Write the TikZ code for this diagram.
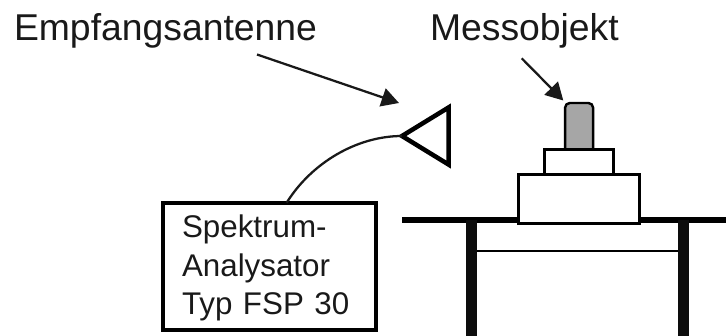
\documentclass[tikz,border=0pt]{standalone}
\usepackage{fontspec}
\setmainfont{Liberation Sans}
\newfontfamily\analyzerfont[WordSpace=0.7]{Liberation Sans}
\usetikzlibrary{positioning, arrows.meta, shapes.geometric}

\begin{document}
\begin{tikzpicture}[x=0.75pt, y=-0.75pt, inner sep=0pt, outer sep=0pt]
    % Define styles
    \tikzstyle{caption} = [anchor=base west, text=black!90, font=\fontsize{28}{34}\selectfont]
    \tikzstyle{analyzerbox} = [draw, rectangle, line width=3pt, minimum width=159.75pt, minimum height=95.25pt, inner xsep=14.5pt, text width=130.75pt, text height=20pt, align=left, text=black!90, font=\analyzerfont\fontsize{23.5}{28.9}\selectfont]
    \tikzstyle{antennashape} = [draw, isosceles triangle, shape border rotate=180, isosceles triangle apex angle=63, minimum height=35pt, line width=3.4pt]
    \tikzstyle{tabletop} = [fill=black, rectangle, minimum width=243pt, minimum height=4.5pt]
    \tikzstyle{tableleg} = [fill=black!95, rectangle, minimum width=8.25pt, minimum height=87pt]
    \tikzstyle{basebox} = [draw, rectangle, fill=white, line width=2.3pt, minimum width=90.75pt, minimum height=36.3pt]
    \tikzstyle{platebox} = [draw, rectangle, fill=white, line width=2.3pt, minimum width=52pt, minimum height=18.75pt]
    \tikzstyle{samplebox} = [draw, rectangle, rounded corners=3.5pt, fill=black!35, line width=1.8pt, minimum width=21pt, minimum height=43pt]
    \tikzstyle{pointer} = [-{Triangle[length=13pt, width=14pt]}, line width=1.7pt, black!90]
    \tikzstyle{cable} = [line width=1.7pt, black!90]
    \tikzstyle{strut} = [line width=1.8pt]

    \useasboundingbox (0,0) rectangle (726,336);

    % LABELS
    \node (rx_label) [caption] at (14,40.7) {Empfangsantenne};
    \node (dut_label) [caption] at (430,40.7) {Messobjekt};
    \coordinate (rx_tail) at (257,54.5);
    \coordinate (rx_head) at (399,103);
    \coordinate (dut_tail) at (521.7,58.3);
    \coordinate (dut_head) at (563.3,100.5);

    % MEASUREMENT SIDE
    \node (analyzer) [analyzerbox] at (269.2,266.2) {Spektrum-\\Analysator\\Typ FSP 30};
    \node (antenna) [antennashape, anchor=apex] at (402,136) {};

    % TABLE
    \node (top) [tabletop] at (564,220) {};
    \node (leg_left) [tableleg, anchor=north] at (471.5,220) {};
    \node (leg_right) [tableleg, anchor=north] at (683.5,220) {};

    % OBJECT STACK
    \node (sample) [samplebox, anchor=north] at (579.1,103) {};
    \node (plate) [platebox, below=-8pt of sample] {};
    \node (base) [basebox, below=0cm of plate] {};

    % CONNECTIONS
    \draw[pointer] (rx_tail) -- (rx_head);
    \draw[pointer] (dut_tail) -- (dut_head);
    \draw[cable] ([xshift=13.1pt]analyzer.north) .. controls +(25,-40) and +(-45,0) .. (antenna.apex);
    \draw[strut] (leg_left.east |- 0,251) -- (leg_right.west |- 0,251);

\end{tikzpicture}
\end{document}
